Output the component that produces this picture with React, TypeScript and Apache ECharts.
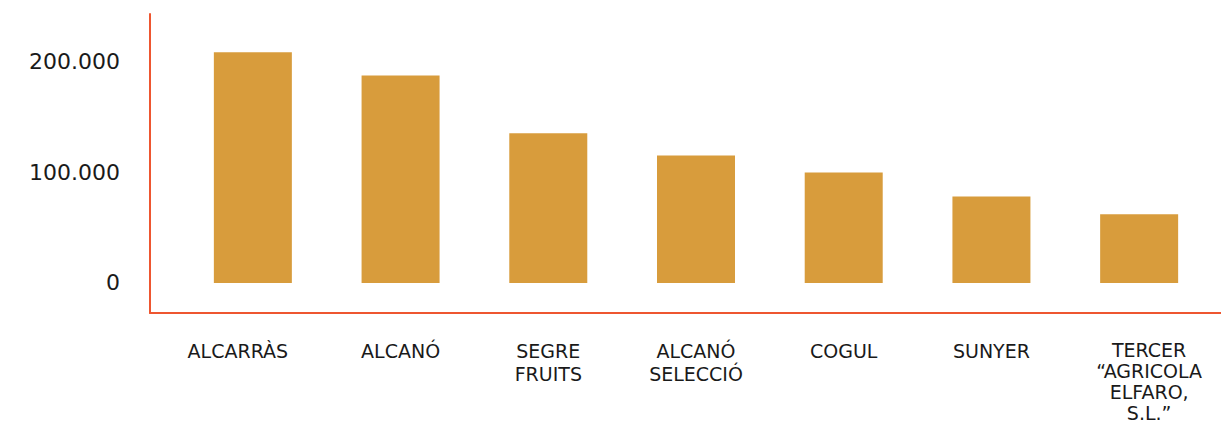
import React, { useEffect, useRef } from "react";
import * as echarts from "echarts";

const categories = [
  "ALCARRÀS",
  "ALCANÓ",
  "SEGRE\nFRUITS",
  "ALCANÓ\nSELECCIÓ",
  "COGUL",
  "SUNYER",
  "TERCER\n“AGRICOLA\nELFARO,\nS.L.”",
];
const values = [208000, 187000, 135000, 115000, 99500, 78000, 62000];
const yTickValues = [0, 100000, 200000];

const AXIS_COLOR = "#ee5630";
const BAR_COLOR = "#d89c3c";
const TEXT_COLOR = "#1a1a1a";
const FONT = "'DejaVu Sans', 'Noto Sans', sans-serif";

const Y_MIN = -27149;
const Y_MAX = 242534;

const fmt = (v: number) => String(Math.round(v)).replace(/\B(?=(\d{3})+(?!\d))/g, ".");

export default function App() {
  const ref = useRef<HTMLDivElement>(null);
  useEffect(() => {
    document.body.style.margin = "0";
    const chart = echarts.init(ref.current!, null, { renderer: "svg" });
    const tokenBase = { fontFamily: FONT, fontSize: 19, lineHeight: 23, color: TEXT_COLOR };
    chart.setOption({
      animation: false,
      grid: [
        { left: 150, right: 0, top: 14, bottom: 110, containLabel: false, outerBoundsMode: "none" },
        { left: 179, right: 8, top: 14, bottom: 110, containLabel: false, outerBoundsMode: "none" },
      ],
      xAxis: [
        {
          type: "value",
          gridIndex: 0,
          min: 0,
          max: 1,
          axisLine: { show: true, onZero: false, lineStyle: { color: AXIS_COLOR, width: 2 } },
          axisTick: { show: false },
          axisLabel: { show: false },
          splitLine: { show: false },
        },
        {
          type: "category",
          gridIndex: 1,
          data: categories,
          axisLine: { show: false, onZero: false },
          axisTick: { show: false },
          axisLabel: {
            interval: 0,
            margin: 26,
            color: TEXT_COLOR,
            fontFamily: FONT,
            fontSize: 19,
            lineHeight: 23,
            align: "center",
            formatter: (v: string, i: number) => {
              if (i === 0) return `{l|${v}}`;
              if (i === categories.length - 1)
                return v
                  .split("\n")
                  .map((s) => `{r|${s}}`)
                  .join("\n");
              return v;
            },
            rich: {
              l: { ...tokenBase, padding: [0, 30, 0, 0] },
              r: { ...tokenBase, lineHeight: 21, padding: [0, 0, 0, 20] },
            },
          },
        },
      ],
      yAxis: [
        {
          type: "value",
          gridIndex: 0,
          min: Y_MIN,
          max: Y_MAX,
          axisLine: { show: true, lineStyle: { color: AXIS_COLOR, width: 2 } },
          axisTick: { show: false },
          splitLine: { show: false },
          axisLabel: {
            customValues: yTickValues,
            margin: 30,
            color: TEXT_COLOR,
            fontFamily: FONT,
            fontSize: 22,
            formatter: (v: number) => fmt(v),
          },
        },
        {
          type: "value",
          gridIndex: 1,
          min: Y_MIN,
          max: Y_MAX,
          show: false,
          splitLine: { show: false },
        },
      ],
      series: [
        {
          type: "bar",
          xAxisIndex: 1,
          yAxisIndex: 1,
          data: values,
          barWidth: 78,
          itemStyle: { color: BAR_COLOR },
        },
      ],
    });
    return () => chart.dispose();
  }, []);
  return <div ref={ref} style={{ width: 1221, height: 423 }} />;
}
